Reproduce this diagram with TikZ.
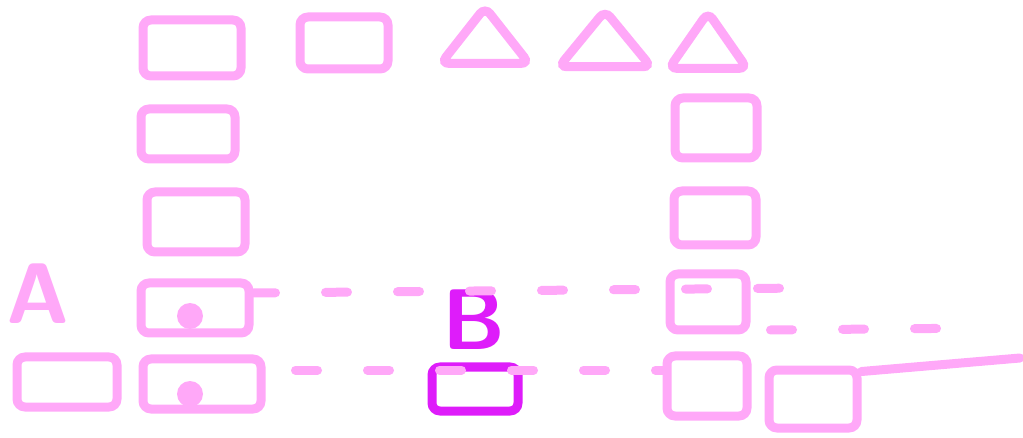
\documentclass[tikz,border=0pt]{standalone}
\usepackage{tikz}
\usetikzlibrary{shapes.geometric, positioning}
\definecolor{sketchpink}{RGB}{255,168,248}
\definecolor{sketchmagenta}{RGB}{222,28,250}

\begin{document}
\begin{tikzpicture}[x=1pt, y=-1pt,
    box/.style={draw=sketchpink, line width=9pt, rounded corners=8pt,
                inner sep=0pt, minimum width=#1},
    tri/.style={draw=sketchpink, line width=9pt, rounded corners=8pt,
                shape=isosceles triangle, shape border rotate=90,
                isosceles triangle stretches, inner sep=0pt,
                minimum width=#1, minimum height=56pt},
    dashline/.style={sketchpink, line width=9pt, line cap=round,
                     dash pattern=on 22pt off 50pt},
    blob/.style={fill=sketchpink, circle, inner sep=0pt, minimum size=26pt},
    letter/.style={font=\fontsize{86}{86}\selectfont\sffamily\bfseries, inner sep=0pt}
  ]
    \useasboundingbox (0,0) rectangle (1023,438);

    % top row
    \node[box=98pt, minimum height=56pt] (b11) at (192,48) {};
    \node[box=88pt, minimum height=52pt] (b12) at (344,43) {};
    \node[tri=88pt] (t13) at (485,42) {};
    \node[tri=92pt] (t14) at (605,45) {};
    \node[tri=78pt] (t15) at (708,48) {};

    % side columns
    \node[box=94pt, minimum height=50pt] (b21) at (188,134) {};
    \node[box=82pt, minimum height=60pt] (b25) at (716,128) {};
    \node[box=98pt, minimum height=60pt] (b31) at (196,222) {};
    \node[box=82pt, minimum height=54pt] (b35) at (715,218) {};

    % row A
    \node[letter, text=sketchpink] (lA) at (38,294) {A};
    \node[box=108pt, minimum height=50pt] (b41) at (195,308) {};
    \node[blob] (dot41) at (190,316) {};
    \node[box=76pt, minimum height=56pt] (b45) at (708,302) {};

    % bottom row
    \node[box=100pt, minimum height=50pt] (b50) at (67,382) {};
    \node[box=118pt, minimum height=50pt] (b51) at (202,384) {};
    \node[blob] (dot51) at (190,394) {};
    \node[letter, text=sketchmagenta] (lB) at (474,320) {B};
    \node[box=86pt, minimum height=44pt, draw=sketchmagenta] (bB) at (475,389) {};
    \node[box=80pt, minimum height=60pt] (b55) at (707,386) {};
    \node[box=88pt, minimum height=58pt] (b56) at (813,399) {};

    \coordinate (r4end) at (805,288);
    \coordinate (r4tail) at (985,328);
    \coordinate (r5end) at (1020,358);

    \draw[dashline] ([yshift=15pt]b41.east) -- (r4end);
    \draw[dashline] ([yshift=-28pt, xshift=20pt]b45.east) -- (r4tail);
    \draw[dashline] ([yshift=14pt, xshift=30pt]b51.east) -- ([yshift=16pt]b55.west);
    \draw[sketchpink, line width=9pt, line cap=round]
      ([yshift=-6pt]b56.north east) -- (r5end);
\end{tikzpicture}
\end{document}
